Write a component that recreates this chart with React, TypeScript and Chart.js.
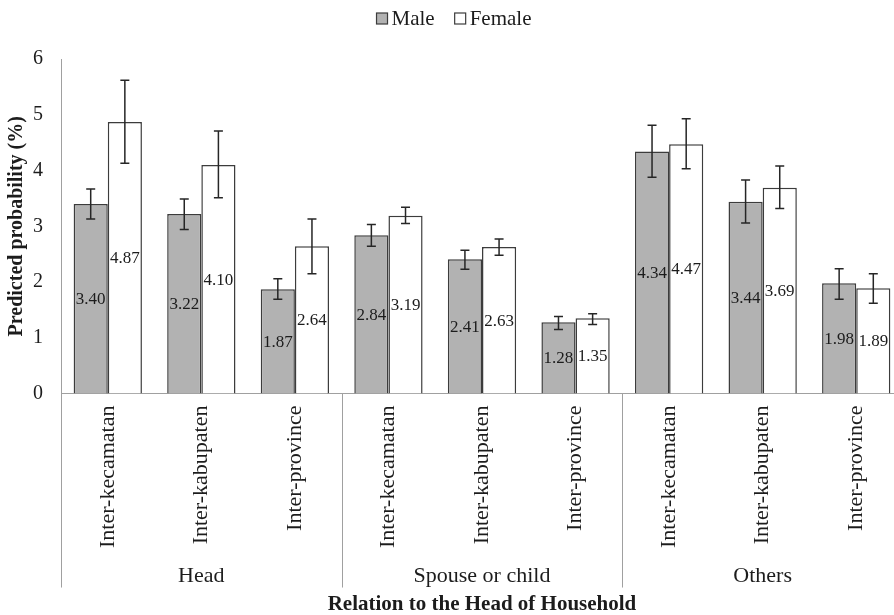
import React, { useEffect, useRef } from "react";
import { Chart, registerables } from "chart.js";

Chart.register(...registerables);

const categories = [
  "Inter-kecamatan", "Inter-kabupaten", "Inter-province",
  "Inter-kecamatan", "Inter-kabupaten", "Inter-province",
  "Inter-kecamatan", "Inter-kabupaten", "Inter-province",
];
const groups = ["Head", "Spouse or child", "Others"];
const seriesNames = ["Male", "Female"];
const maleValues = [3.4, 3.22, 1.87, 2.84, 2.41, 1.28, 4.34, 3.44, 1.98];
const femaleValues = [4.87, 4.1, 2.64, 3.19, 2.63, 1.35, 4.47, 3.69, 1.89];
const maleLow = [3.13, 2.94, 1.69, 2.64, 2.23, 1.15, 3.88, 3.06, 1.69];
const maleHigh = [3.67, 3.49, 2.06, 3.03, 2.57, 1.38, 4.81, 3.83, 2.24];
const femaleLow = [4.13, 3.51, 2.15, 3.05, 2.48, 1.24, 4.03, 3.32, 1.62];
const femaleHigh = [5.62, 4.71, 3.13, 3.34, 2.77, 1.43, 4.93, 4.08, 2.15];
const yTicks = [0, 1, 2, 3, 4, 5, 6];

const SERIF = "'Liberation Serif', 'Times New Roman', serif";
const TEXT = "#1c1c1c";
const AXIS = "#a0a0a0";
const MALE_FILL = "#b2b2b2";
const FEMALE_FILL = "#ffffff";
const BAR_BORDER = "#3c3c3c";

const lows = [maleLow, femaleLow];
const highs = [maleHigh, femaleHigh];

const overlayPlugin = {
  id: "overlay",
  afterDatasetsDraw(chart: any) {
    const ctx = chart.ctx;
    const x = chart.scales.x;
    const y = chart.scales.y;
    const area = chart.chartArea;
    ctx.save();
    // value labels
    ctx.font = `17px ${SERIF}`;
    ctx.fillStyle = TEXT;
    ctx.textAlign = "center";
    ctx.textBaseline = "middle";
    chart.data.datasets.forEach((ds: any, d: number) => {
      const meta = chart.getDatasetMeta(d);
      meta.data.forEach((el: any, i: number) => {
        const cy = (el.y + el.base) / 2;
        ctx.fillText(Number(ds.data[i]).toFixed(2), el.x, cy + 1);
      });
    });
    // error bars
    ctx.strokeStyle = "#262626";
    ctx.lineWidth = 1.5;
    chart.data.datasets.forEach((ds: any, d: number) => {
      const meta = chart.getDatasetMeta(d);
      meta.data.forEach((el: any, i: number) => {
        const yl = y.getPixelForValue(lows[d][i]);
        const yh = y.getPixelForValue(highs[d][i]);
        const cx = el.x;
        const cap = 4.5;
        ctx.beginPath();
        ctx.moveTo(cx, yl);
        ctx.lineTo(cx, yh);
        ctx.moveTo(cx - cap, yl);
        ctx.lineTo(cx + cap, yl);
        ctx.moveTo(cx - cap, yh);
        ctx.lineTo(cx + cap, yh);
        ctx.stroke();
      });
    });
    // group separators and labels
    ctx.strokeStyle = AXIS;
    ctx.lineWidth = 1;
    [-0.5, 2.5, 5.5, 8.5].forEach((v) => {
      const px = Math.round(x.getPixelForValue(v)) + 0.5;
      ctx.beginPath();
      ctx.moveTo(px, area.bottom);
      ctx.lineTo(px, area.bottom + 194);
      ctx.stroke();
    });
    ctx.font = `22px ${SERIF}`;
    ctx.fillStyle = TEXT;
    groups.forEach((g, gi) => {
      const px = x.getPixelForValue(gi * 3 + 1);
      ctx.fillText(g, px, area.bottom + 183);
    });
    ctx.restore();
  },
  afterDraw(chart: any) {
    // legend
    const ctx = chart.ctx;
    ctx.save();
    ctx.font = `21px ${SERIF}`;
    ctx.textBaseline = "middle";
    ctx.textAlign = "left";
    const box = 11;
    const gap = 4;
    const itemGap = 20;
    const widths = seriesNames.map((n) => ctx.measureText(n).width);
    const total = widths.reduce((a, w) => a + box + gap + w, 0) + itemGap * (seriesNames.length - 1);
    let lx = 454 - total / 2;
    const cy = 18.5;
    const fills = [MALE_FILL, FEMALE_FILL];
    seriesNames.forEach((n, i) => {
      ctx.fillStyle = fills[i];
      ctx.fillRect(lx, cy - box / 2, box, box);
      ctx.strokeStyle = BAR_BORDER;
      ctx.lineWidth = 1.2;
      ctx.strokeRect(lx, cy - box / 2, box, box);
      ctx.fillStyle = TEXT;
      ctx.fillText(n, lx + box + gap, cy + 1);
      lx += box + gap + widths[i] + itemGap;
    });
    ctx.restore();
  },
};

export default function App() {
  const ref = useRef<HTMLCanvasElement | null>(null);
  useEffect(() => {
    if (!ref.current) return;
    const chart = new Chart(ref.current, {
      type: "bar",
      data: {
        labels: categories,
        datasets: [
          {
            label: seriesNames[0],
            data: maleValues,
            backgroundColor: MALE_FILL,
            borderColor: BAR_BORDER,
            borderWidth: 1.5,
          },
          {
            label: seriesNames[1],
            data: femaleValues,
            backgroundColor: FEMALE_FILL,
            borderColor: BAR_BORDER,
            borderWidth: 1.5,
          },
        ],
      },
      options: {
        animation: false,
        responsive: false,
        maintainAspectRatio: false,
        layout: { padding: { top: 59, right: 3, left: 0, bottom: 0 } },
        datasets: {
          bar: { categoryPercentage: 0.73, barPercentage: 1.0 },
        },
        plugins: {
          legend: { display: false },
          tooltip: { enabled: false },
        },
        scales: {
          x: {
            grid: { display: false, drawTicks: false },
            border: { display: true, color: AXIS, width: 1 },
            ticks: {
              color: TEXT,
              font: { family: SERIF, size: 22 },
              minRotation: 90,
              maxRotation: 90,
              padding: 12,
              autoSkip: false,
            },
            title: {
              display: true,
              text: "Relation to the Head of Household",
              color: TEXT,
              font: { family: SERIF, size: 21, weight: "bold", lineHeight: 1.0 },
              padding: { top: 34, bottom: 0 },
            },
          },
          y: {
            min: 0,
            max: 6,
            grid: { display: false, drawTicks: false },
            border: { display: true, color: AXIS, width: 1 },
            afterBuildTicks: (axis: any) => {
              axis.ticks = yTicks.map((v) => ({ value: v }));
            },
            afterFit: (axis: any) => {
              axis.width = 61;
            },
            ticks: {
              color: TEXT,
              font: { family: SERIF, size: 20 },
              padding: 18,
            },
            title: {
              display: true,
              text: "Predicted probability (%)",
              color: TEXT,
              font: { family: SERIF, size: 20, weight: "bold" },
              padding: { top: 5, bottom: 5 },
            },
          },
        },
      },
      plugins: [overlayPlugin],
    });
    return () => chart.destroy();
  }, []);
  return (
    <div
      style={{
        position: "fixed",
        left: 0,
        top: 0,
        width: 894,
        height: 615,
        overflow: "hidden",
        background: "#ffffff",
      }}
    >
      <canvas ref={ref} width={906} height={615} style={{ display: "block" }} />
    </div>
  );
}
